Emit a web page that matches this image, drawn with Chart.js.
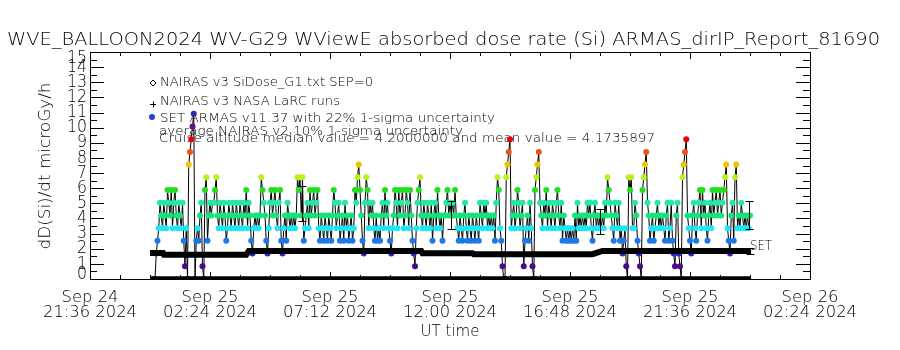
<!DOCTYPE html>
<html><head><meta charset="utf-8">
<script src="https://cdn.jsdelivr.net/npm/chart.js@4"></script>
<style>html,body{margin:0;padding:0;background:#fff}canvas{display:block}</style>
</head><body>
<canvas id="c" width="900" height="350"></canvas>
<script>
// ---------- texts ----------
const titleText = "WVE_BALLOON2024 WV-G29 WViewE absorbed dose rate (Si) ARMAS_dirIP_Report_81690";
const yTitle = "dD(Si)/dt microGy/h";
const xTitle = "UT time";
const legendLines = [
  "NAIRAS v3 SiDose_G1.txt SEP=0",
  "NAIRAS v3 NASA LaRC runs",
  "SET ARMAS v11.37 with 22% 1-sigma uncertainty",
  "average NAIRAS v2 10% 1-sigma uncertainty",
  "Cruise altitude median value = 4.2000000 and mean value = 4.1735897"
];
const seriesTag = "SET";

// ---------- axes (x in hours after Sep 24 21:36 UT) ----------
const xTickHours = [0, 4.8, 9.6, 14.4, 19.2, 24, 28.8];
const xTickLabels = [["Sep 24","21:36 2024"],["Sep 25","02:24 2024"],["Sep 25","07:12 2024"],["Sep 25","12:00 2024"],["Sep 25","16:48 2024"],["Sep 25","21:36 2024"],["Sep 26","02:24 2024"]];
const yTickValues = [0,1,2,3,4,5,6,7,8,9,10,11,12,13,14,15];

// ---------- data ----------
// ARMAS dose rate (microGy/h), one sample every 3 minutes from hour 2.6
const armasStartHour = 2.6;
const armasCadenceHours = 0.05;
const armasValues = [
0,1.68,2.52,3.36,5.04,4.2,3.36,5.04,4.2,3.36,5.88,5.04,4.2,5.88,3.36,5.04,5.88,4.2,3.36,5.04,
4.2,3.36,5.04,2.52,0.84,3.36,0,7.56,8.4,9.24,10.08,10.92,0,2.52,3.36,2.52,4.2,5.04,0.84,0,
5.88,6.72,2.52,4.2,5.04,4.2,5.04,5.04,5.88,6.72,4.2,3.36,5.04,4.2,3.36,5.04,4.2,2.52,3.36,5.04,
4.2,3.36,5.04,4.2,3.36,5.04,4.2,3.36,5.04,4.2,3.36,5.04,4.2,5.88,3.36,5.04,4.2,2.52,1.68,3.36,
4.2,3.36,4.2,3.36,4.2,6.72,5.88,5.04,4.2,2.52,1.68,3.36,5.04,5.88,4.2,5.04,5.88,4.2,3.36,5.04,
5.88,2.52,1.68,3.36,4.2,2.52,5.04,4.2,3.36,4.2,3.36,4.2,3.36,4.2,6.72,5.88,6.72,4.2,6.72,2.52,
3.36,4.2,5.04,3.36,5.88,4.2,5.04,5.88,4.2,5.04,5.88,3.36,2.52,4.2,3.36,2.52,4.2,3.36,2.52,4.2,
3.36,2.52,4.2,5.88,5.04,3.36,4.2,5.04,2.52,3.36,4.2,2.52,5.04,3.36,4.2,2.52,3.36,4.2,2.52,3.36,
5.88,5.04,6.72,7.56,5.88,4.2,2.52,1.68,5.04,6.72,5.88,3.36,5.04,4.2,5.04,3.36,2.52,4.2,2.52,3.36,
2.52,4.2,5.04,3.36,5.88,4.2,5.04,3.36,2.52,1.68,3.36,4.2,5.88,5.04,3.36,5.88,4.2,5.04,5.88,3.36,
4.2,5.88,5.04,3.36,5.88,4.2,2.52,1.68,0.84,3.36,5.04,5.88,6.72,4.2,3.36,5.04,4.2,3.36,5.04,4.2,
3.36,5.04,2.52,4.2,5.04,3.36,5.88,4.2,3.36,4.2,2.52,4.2,4.2,5.04,5.88,4.2,5.04,4.2,5.04,4.2,
5.88,4.2,3.36,2.52,4.2,3.36,2.52,4.2,5.04,3.36,2.52,4.2,3.36,2.52,4.2,3.36,2.52,4.2,3.36,2.52,
5.04,4.2,3.36,5.04,4.2,5.04,3.36,4.2,3.36,4.2,3.36,4.2,2.52,5.04,6.72,5.88,3.36,2.52,0.84,0,
0,6.72,7.56,8.4,9.24,3.36,4.2,5.04,3.36,4.2,5.88,5.04,3.36,4.2,5.04,0.84,2.52,3.36,4.2,2.52,
5.04,3.36,0.84,0,5.88,6.72,7.56,8.4,5.04,4.2,3.36,5.04,4.2,5.88,3.36,5.04,4.2,3.36,5.04,4.2,
3.36,5.04,5.88,4.2,3.36,5.04,2.52,4.2,3.36,2.52,3.36,2.52,3.36,2.52,3.36,2.52,4.2,2.52,5.04,3.36,
4.2,3.36,4.2,3.36,4.2,3.36,5.04,4.2,5.04,3.36,2.52,4.2,5.04,3.36,4.2,3.36,4.2,3.36,4.2,3.36,
5.04,4.2,6.72,5.88,5.04,4.2,3.36,2.52,5.04,4.2,3.36,5.04,2.52,3.36,1.68,2.52,3.36,0.84,0,6.72,
5.88,6.72,3.36,3.36,5.04,4.2,2.52,1.68,0.84,0,5.88,6.72,7.56,8.4,5.04,4.2,2.52,3.36,4.2,2.52,
3.36,4.2,5.04,3.36,4.2,3.36,4.2,3.36,2.52,4.2,5.04,2.52,3.36,5.04,2.52,1.68,0.84,4.2,5.04,1.68,
0.84,0,6.72,7.56,8.4,9.24,4.2,3.36,2.52,1.68,4.2,5.04,3.36,2.52,4.2,5.04,5.88,3.36,5.88,4.2,
5.04,3.36,2.52,4.2,5.04,3.36,5.88,4.2,5.04,5.88,4.2,5.04,5.88,4.2,5.04,5.88,6.72,7.56,3.36,2.52,
1.68,4.2,5.04,2.52,6.72,7.56,3.36,4.2,3.36,5.04,4.2,3.36,4.2,3.36,4.2,3.36,4.2
];
// NAIRAS v3 NASA LaRC runs
const nairasTimes  = [2.4, 2.92, 2.96, 6.25, 6.35, 13.25, 13.3, 15.3, 15.35, 20.1, 20.5, 26.4];
const nairasValues = [1.72, 1.72, 1.6, 1.6, 1.85, 1.85, 1.7, 1.7, 1.64, 1.64, 1.85, 1.85];
// NAIRAS v3 SiDose_G1 SEP=0
const sepTimes  = [2.4, 26.4];
const sepValues = [0.08, 0.08];
// ARMAS 22% 1-sigma error bars
const armasErrTimes = [8.48, 14.44, 20.4, 26.36];
const armasErrLow   = [3.83, 3.3, 2.97, 3.28];
const armasErrHigh  = [6.15, 5.17, 4.61, 5.14];
// NAIRAS 10% error bars
const nairasErrTimes = [2.56, 26.4];
const nairasErrLow   = [1.56, 1.68];
const nairasErrHigh  = [1.9, 2.04];

// ---------- styling ----------
const doseStep = 0.84;
const levelColors = ['#000000','#4a0a86','#2a22cc','#1e78e6','#1ee6f4','#14e47a','#24e8a4','#22e01e','#b8f020','#f2c400','#f05010','#f00000','#5a1488','#3a22b0'];
function colorFor(v){ const k = Math.max(0, Math.min(levelColors.length-1, Math.round(v/doseStep))); return levelColors[k]; }
const FONT = '"DejaVu Sans", "Liberation Sans", sans-serif';
const WEIGHT = '200 ';

function fitText(ctx, text, x, y, width, size, align, baseline){
  ctx.save();
  ctx.font = WEIGHT + size + 'px ' + FONT;
  ctx.textAlign = align || 'left';
  ctx.textBaseline = baseline || 'alphabetic';
  const w = ctx.measureText(text).width;
  const sx = width ? width / w : 1;
  ctx.translate(x, y);
  ctx.scale(sx, 1);
  ctx.fillStyle = '#000';
  ctx.fillText(text, 0, 0);
  ctx.restore();
}

const armasData = armasValues.map((v,i)=>({x: armasStartHour + i*armasCadenceHours, y: v}));

const decor = {
  id: 'decor',
  beforeDraw(chart){
    const c = chart.ctx;
    c.save(); c.fillStyle = '#fff'; c.fillRect(0,0,chart.width,chart.height); c.restore();
  },
  beforeDatasetsDraw(chart){
    const c = chart.ctx;
    fitText(c, titleText, 7, 45, 873, 18, 'left');
    c.save(); c.translate(46, 166); c.rotate(-Math.PI/2);
    fitText(c, yTitle, 0, 0, 167, 16, 'center', 'middle');
    c.restore();
    const lx = [160,160,160,159,159], ly = [86,105,121.5,135,142.3], lw = [213,180,335,304,496];
    legendLines.forEach((t,i)=> fitText(c, t, lx[i], ly[i], lw[i], 13, 'left'));
    c.save();
    c.strokeStyle = '#000'; c.lineWidth = 1;
    c.beginPath(); c.moveTo(153,80); c.lineTo(156,83); c.lineTo(153,86); c.lineTo(150,83); c.closePath(); c.stroke();
    c.beginPath(); c.moveTo(150,104.5); c.lineTo(156,104.5); c.moveTo(153.5,101.5); c.lineTo(153.5,107.5); c.stroke();
    c.fillStyle = '#2040e0'; c.beginPath(); c.arc(152,117,3,0,Math.PI*2); c.fill();
    c.restore();
    const xs = chart.scales.x;
    xTickHours.forEach((h,i)=>{
      const px = xs.getPixelForValue(h);
      fitText(c, xTickLabels[i][0], px, 302, 57, 15, 'center');
      fitText(c, xTickLabels[i][1], px, 317, 94, 15, 'center');
    });
    fitText(c, xTitle, 450, 336, 0, 15, 'center');
    const ys = chart.scales.y;
    yTickValues.forEach(v=>{
      let py = ys.getPixelForValue(v);
      if (v === 0) py -= 5;
      if (v === 15) py += 6;
      const s = String(v);
      fitText(c, s, 87, py, s.length*10, 18, 'right', 'middle');
    });
  },
  afterDatasetsDraw(chart){
    const c = chart.ctx, xs = chart.scales.x, ys = chart.scales.y, a = chart.chartArea;
    c.save();
    c.strokeStyle = '#000'; c.lineWidth = 1;
    const bar = (t, lo, hi, cap) => {
      const x = Math.round(xs.getPixelForValue(t)) + 0.5;
      const y1 = Math.round(ys.getPixelForValue(hi)) + 0.5, y2 = Math.round(ys.getPixelForValue(lo)) + 0.5;
      c.beginPath();
      c.moveTo(x, y1); c.lineTo(x, y2);
      c.moveTo(x-cap, y1); c.lineTo(x+cap, y1);
      c.moveTo(x-cap, y2); c.lineTo(x+cap, y2);
      c.stroke();
    };
    armasErrTimes.forEach((t,i)=>bar(t, armasErrLow[i], armasErrHigh[i], 4));
    nairasErrTimes.forEach((t,i)=>bar(t, nairasErrLow[i], nairasErrHigh[i], 4));
    c.strokeRect(a.left+0.5, a.top+0.5, a.right-a.left, a.bottom-a.top);
    c.beginPath();
    for (let v = 0; v <= 15.001; v += 0.5){
      const py = Math.round(ys.getPixelForValue(v)) + 0.5;
      const len = (Math.abs(v - Math.round(v)) < 1e-6) ? 14 : 7;
      c.moveTo(a.left, py); c.lineTo(a.left+len, py);
      c.moveTo(a.right, py); c.lineTo(a.right-len, py);
    }
    for (let k = 0; k <= 24; k++){
      const px = Math.round(xs.getPixelForValue(k*1.2)) + 0.5;
      const len = (k % 4 === 0) ? 7 : 4;
      c.moveTo(px, a.bottom); c.lineTo(px, a.bottom-len);
      c.moveTo(px, a.top); c.lineTo(px, a.top+len);
    }
    c.stroke();
    c.restore();
    fitText(c, seriesTag, 750, 250, 22, 14, 'left');
  }
};

new Chart(document.getElementById('c').getContext('2d'), {
  type: 'line',
  data: { datasets: [
    { label:'NAIRAS v3 NASA LaRC', data: nairasTimes.map((t,i)=>({x:t,y:nairasValues[i]})), borderColor:'#000', borderWidth:6, pointRadius:0, tension:0, fill:false },
    { label:'NAIRAS v3 SiDose', data: sepTimes.map((t,i)=>({x:t,y:sepValues[i]})), borderColor:'#000', borderWidth:3, pointRadius:0, tension:0, fill:false },
    { label:'ARMAS', data: armasData, borderColor:'#000', borderWidth:1, tension:0, fill:false,
      pointRadius:3, pointBorderWidth:0, pointBackgroundColor: armasValues.map(colorFor), pointBorderColor: armasValues.map(colorFor) }
  ]},
  options: {
    responsive:false, animation:false, devicePixelRatio:1,
    layout:{ padding:{ left:90, right:90, top:52, bottom:71 } },
    plugins:{ legend:{display:false}, tooltip:{enabled:false} },
    scales:{
      x:{ type:'linear', min:0, max:28.8, display:false },
      y:{ type:'linear', min:0, max:15, display:false }
    }
  },
  plugins:[decor]
});
</script>
</body></html>
